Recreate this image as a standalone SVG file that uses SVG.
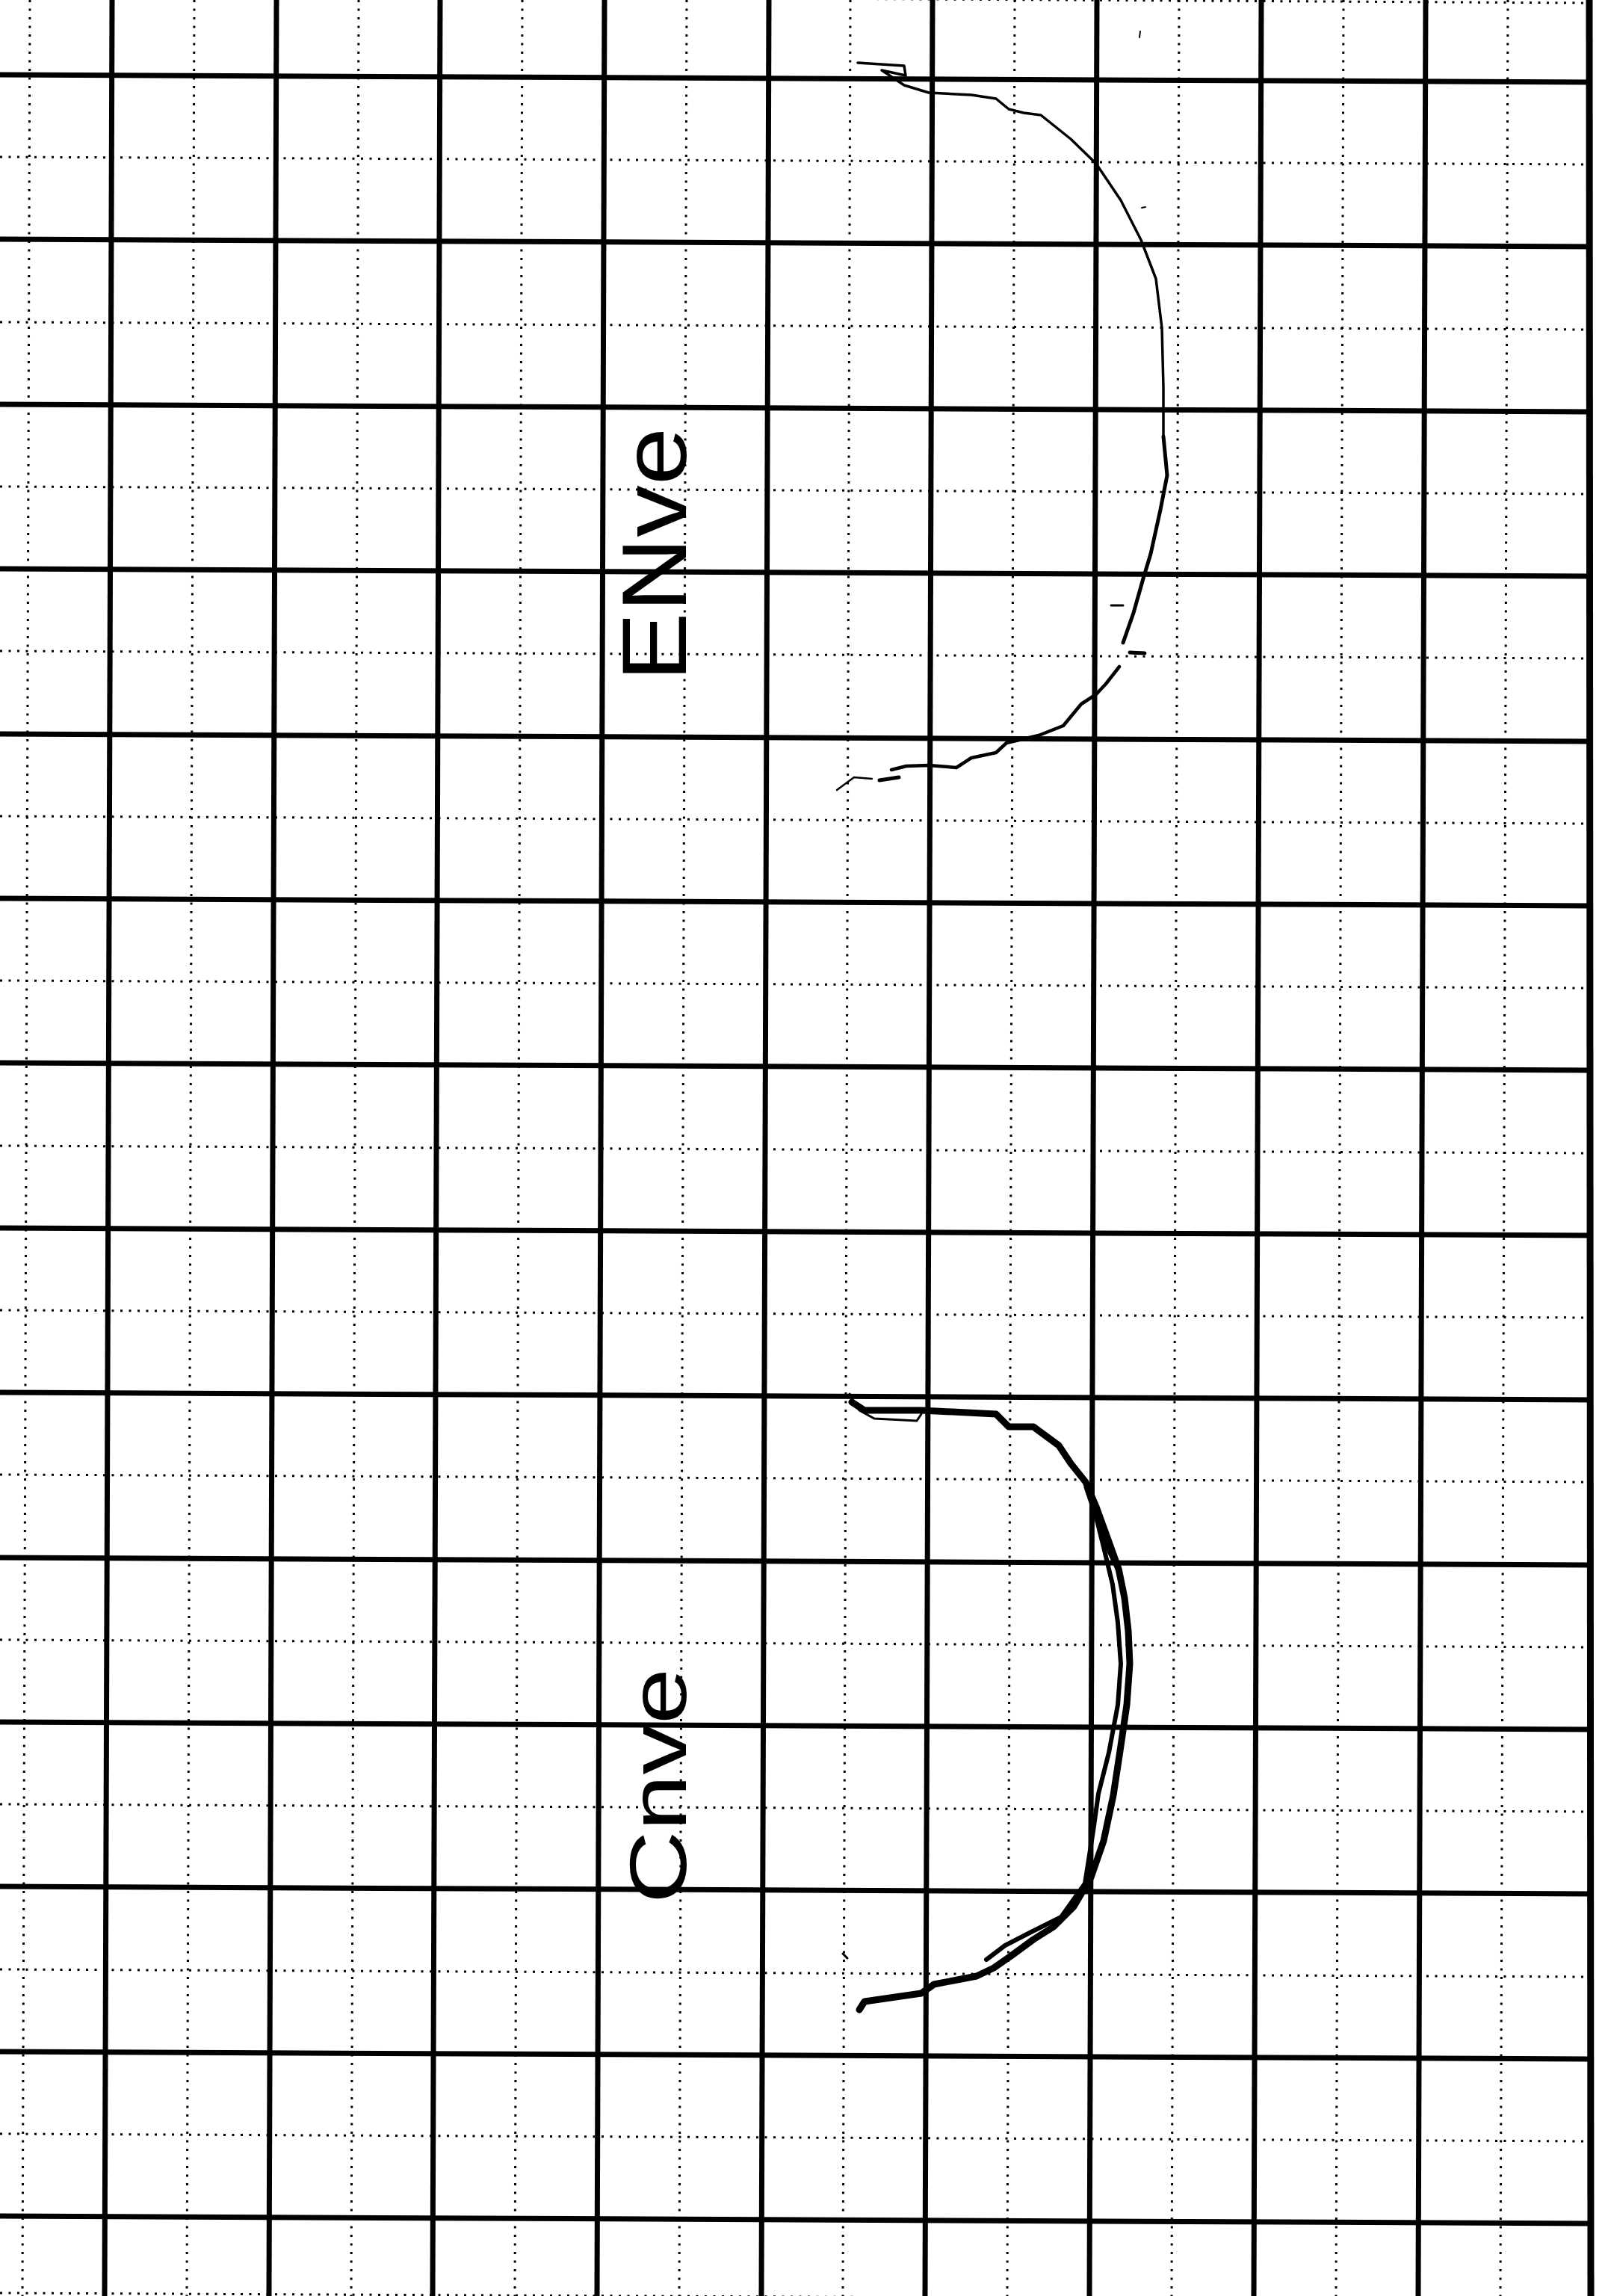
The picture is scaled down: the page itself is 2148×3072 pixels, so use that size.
<svg xmlns="http://www.w3.org/2000/svg" width="2148" height="3072" viewBox="0 0 2148 3072">
<style>
.maj{stroke:#000;stroke-width:7;fill:none}
.dot{stroke:#000;stroke-width:3;stroke-dasharray:3 8.5;fill:none}
.ink{stroke:#000;fill:none;stroke-linecap:round;stroke-linejoin:round}
.lbl{font-family:"Liberation Sans",Arial,sans-serif;fill:#000}
</style>
<rect width="2148" height="3072" fill="#fff"/>
<g id="grid-minor">
<line class="dot" x1="40" y1="0" x2="30" y2="3072"/>
<line class="dot" x1="260" y1="0" x2="250" y2="3072"/>
<line class="dot" x1="480" y1="0" x2="470" y2="3072"/>
<line class="dot" x1="699" y1="0" x2="689" y2="3072"/>
<line class="dot" x1="919" y1="0" x2="909" y2="3072"/>
<line class="dot" x1="1138" y1="0" x2="1128" y2="3072"/>
<line class="dot" x1="1358" y1="0" x2="1348" y2="3072"/>
<line class="dot" x1="1578" y1="0" x2="1568" y2="3072"/>
<line class="dot" x1="1798" y1="0" x2="1788" y2="3072"/>
<line class="dot" x1="2018" y1="0" x2="2008" y2="3072"/>
<line class="dot" x1="0" y1="-8" x2="2130" y2="4"/>
<line class="dot" x1="0" y1="210" x2="2130" y2="220"/>
<line class="dot" x1="0" y1="431" x2="2130" y2="441"/>
<line class="dot" x1="0" y1="651" x2="2130" y2="661"/>
<line class="dot" x1="0" y1="871" x2="2130" y2="881"/>
<line class="dot" x1="0" y1="1092" x2="2130" y2="1102"/>
<line class="dot" x1="0" y1="1312" x2="2130" y2="1322"/>
<line class="dot" x1="0" y1="1533" x2="2130" y2="1543"/>
<line class="dot" x1="0" y1="1753" x2="2130" y2="1763"/>
<line class="dot" x1="0" y1="1973" x2="2130" y2="1983"/>
<line class="dot" x1="0" y1="2194" x2="2130" y2="2204"/>
<line class="dot" x1="0" y1="2414" x2="2130" y2="2424"/>
<line class="dot" x1="0" y1="2635" x2="2130" y2="2645"/>
<line class="dot" x1="0" y1="2855" x2="2130" y2="2865"/>
<line class="dot" x1="0" y1="3068" x2="2130" y2="3078"/>
</g>
<g id="grid-major">
<line class="maj" x1="150" y1="0" x2="140" y2="3072"/>
<line class="maj" x1="370" y1="0" x2="360" y2="3072"/>
<line class="maj" x1="589" y1="0" x2="579" y2="3072"/>
<line class="maj" x1="809" y1="0" x2="799" y2="3072"/>
<line class="maj" x1="1029" y1="0" x2="1019" y2="3072"/>
<line class="maj" x1="1248" y1="0" x2="1238" y2="3072"/>
<line class="maj" x1="1468" y1="0" x2="1458" y2="3072"/>
<line class="maj" x1="1688" y1="0" x2="1678" y2="3072"/>
<line class="maj" x1="1908" y1="0" x2="1898" y2="3072"/>
<line class="maj" x1="2127" y1="0" x2="2129" y2="3072" style="stroke-width:9"/>
<line class="maj" x1="0" y1="100" x2="2130" y2="110"/>
<line class="maj" x1="0" y1="320" x2="2130" y2="330"/>
<line class="maj" x1="0" y1="541" x2="2130" y2="551"/>
<line class="maj" x1="0" y1="761" x2="2130" y2="771"/>
<line class="maj" x1="0" y1="982" x2="2130" y2="992"/>
<line class="maj" x1="0" y1="1202" x2="2130" y2="1212"/>
<line class="maj" x1="0" y1="1422" x2="2130" y2="1432"/>
<line class="maj" x1="0" y1="1643" x2="2130" y2="1653"/>
<line class="maj" x1="0" y1="1863" x2="2130" y2="1873"/>
<line class="maj" x1="0" y1="2084" x2="2130" y2="2094"/>
<line class="maj" x1="0" y1="2304" x2="2130" y2="2314"/>
<line class="maj" x1="0" y1="2524" x2="2130" y2="2534"/>
<line class="maj" x1="0" y1="2745" x2="2130" y2="2755"/>
<line class="maj" x1="0" y1="2965" x2="2130" y2="2975"/>
</g>
<g id="curve-top">
<polyline class="ink" style="stroke-width:3.5" points="1148,84 1210,88 1212,101 1180,94 1210,114 1243,124 1300,127 1333,132 1350,146 1370,151 1393,154 1433,186 1467,219 1500,268 1527,321 1547,373 1555,439 1557,518 1557,584"/>
<polyline class="ink" style="stroke-width:5" points="1557,584 1562,636 1553,682 1540,741 1530,774 1517,820 1503,860"/>
<polyline class="ink" style="stroke-width:4.5" points="1498,892 1480,915 1467,929 1447,942 1423,971 1390,984 1347,994 1333,1007 1300,1014 1280,1027 1243,1024 1213,1025 1193,1030"/>
<polyline class="ink" style="stroke-width:5" points="1203,1040 1177,1044"/>
<polyline class="ink" style="stroke-width:2.5" points="1167,1042 1143,1040 1120,1057"/>
<line class="ink" style="stroke-width:3" x1="1487" y1="810" x2="1503" y2="810"/>
<line class="ink" style="stroke-width:5" x1="1512" y1="873" x2="1532" y2="874"/>
<line class="ink" style="stroke-width:2" x1="1528" y1="278" x2="1533" y2="277"/>
<line class="ink" style="stroke-width:2" x1="1526" y1="42" x2="1525" y2="50"/>
</g>
<g id="curve-bottom">
<polyline class="ink" style="stroke-width:3" points="1137,1865 1150,1887 1170,1898 1227,1901 1233,1892"/>
<polyline class="ink" style="stroke-width:9" points="1140,1876 1157,1887 1233,1887 1333,1892 1350,1909 1383,1909 1417,1934 1433,1958 1453,1983 1467,2016 1483,2060 1497,2099 1505,2138 1510,2182 1512,2226 1508,2281 1500,2336 1490,2402 1477,2463 1460,2512 1437,2551 1410,2578 1383,2595 1353,2617 1330,2633 1307,2644 1250,2655 1233,2667 1157,2678 1150,2689"/>
<polyline class="ink" style="stroke-width:6" points="1467,2030 1477,2070 1489,2120 1496,2171 1500,2226 1496,2281 1484,2345 1470,2400 1463,2450 1452,2520 1420,2565 1380,2585 1345,2603 1320,2622"/>
<polyline class="ink" style="stroke-width:5" points="1453,1990 1470,2040 1485,2078 1500,2110"/>
<line class="ink" style="stroke-width:3" x1="1128" y1="2614" x2="1134" y2="2620"/>
</g>
<g id="labels">
<text class="lbl" transform="translate(918,912) rotate(-90)" font-size="122" textLength="340" lengthAdjust="spacingAndGlyphs">ENve</text>
<text class="lbl" transform="translate(918,2547) rotate(-90)" font-size="108" textLength="315" lengthAdjust="spacingAndGlyphs">Cnve</text>
</g>
</svg>
